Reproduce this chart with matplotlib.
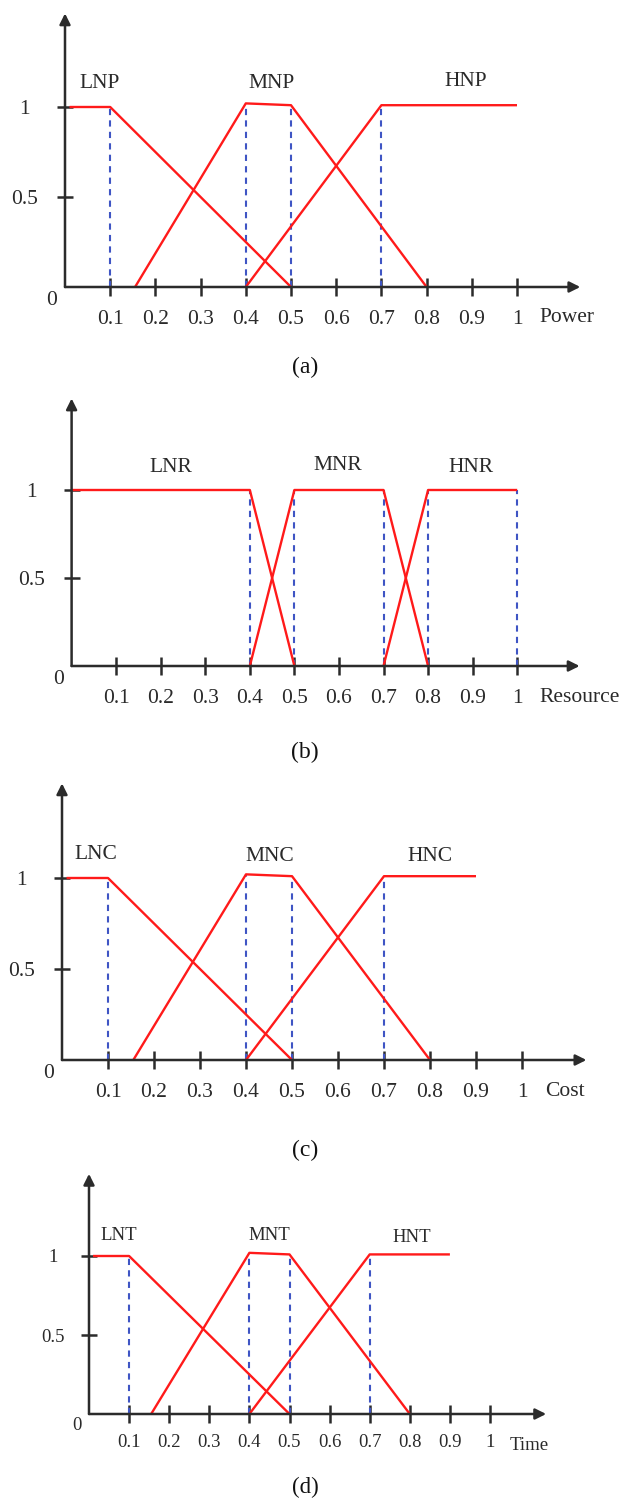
import matplotlib
matplotlib.use("Agg")
import matplotlib.pyplot as plt
import numpy as np

plt.rcParams['font.family'] = ['Liberation Serif', 'DejaVu Serif']

# --- data: membership function break points (x, y) for each panel ---
power_x = {"LNP": [0.01, 0.1, 0.5], "MNP": [0.155, 0.4, 0.5, 0.8], "HNP": [0.4, 0.7, 1.0]}
power_y = {"LNP": [1, 1, 0], "MNP": [0, 1.02, 1.01, 0], "HNP": [0, 1.01, 1.01]}
power_dash = [0.1, 0.4, 0.5, 0.7]
power_dash_h = [1, 1.02, 1.01, 1.01]

res_x = {"LNR": [0.0, 0.4, 0.5], "MNR": [0.4, 0.5, 0.7, 0.8], "HNR": [0.7, 0.8, 1.0]}
res_y = {"LNR": [1, 1, 0], "MNR": [0, 1, 1, 0], "HNR": [0, 1, 1]}
res_dash = [0.4, 0.5, 0.7, 0.8, 1.0]
res_dash_h = [1, 1, 1, 1, 1]

cost_x = {"LNC": [0.01, 0.1, 0.5], "MNC": [0.155, 0.4, 0.5, 0.8], "HNC": [0.4, 0.7, 0.9]}
cost_y = {"LNC": [1, 1, 0], "MNC": [0, 1.02, 1.01, 0], "HNC": [0, 1.01, 1.01]}
cost_dash = [0.1, 0.4, 0.5, 0.7]
cost_dash_h = [1, 1.02, 1.01, 1.01]

time_x = {"LNT": [0.01, 0.1, 0.5], "MNT": [0.155, 0.4, 0.5, 0.8], "HNT": [0.4, 0.7, 0.9]}
time_y = {"LNT": [1, 1, 0], "MNT": [0, 1.02, 1.01, 0], "HNT": [0, 1.01, 1.01]}
time_dash = [0.1, 0.4, 0.5, 0.7]
time_dash_h = [1, 1.02, 1.01, 1.01]

x_ticks = [0.1, 0.2, 0.3, 0.4, 0.5, 0.6, 0.7, 0.8, 0.9, 1.0]
x_tick_labels = ["0.1", "0.2", "0.3", "0.4", "0.5", "0.6", "0.7", "0.8", "0.9", "1"]
y_ticks = [0.5, 1.0]
y_tick_labels = ["0.5", "1"]

W, H = 627, 1499
fig = plt.figure(figsize=(W / 100, H / 100), dpi=100)

AX_COL = "#2b2b2b"
TXT = "#2a2a2a"
RED = "#ff1a1a"
BLUE = "#3f55c4"


def panel(ox, oy, sx, sy, xs, ys, dash, dash_h, label_pos, xname, caption, fs, cap_xy, xpad, ypad, cap_fs):
    xmax, ymax = 1.3, 1.6
    ax = fig.add_axes([ox / W, (H - oy) / H, xmax * sx / W, ymax * sy / H])
    ax.set_xlim(0, xmax)
    ax.set_ylim(0, ymax)
    for s in ["top", "right", "left", "bottom"]:
        ax.spines[s].set_visible(False)
    ax.patch.set_alpha(0)

    # axes with arrows
    ax.annotate("", xy=(1.14, 0), xytext=(0, 0), annotation_clip=False,
                arrowprops=dict(arrowstyle="-|>", color=AX_COL, lw=1.8, mutation_scale=16,
                                shrinkA=0, shrinkB=0))
    ax.annotate("", xy=(0, 1.52), xytext=(0, 0), annotation_clip=False,
                arrowprops=dict(arrowstyle="-|>", color=AX_COL, lw=1.8, mutation_scale=16,
                                shrinkA=0, shrinkB=0))

    ax.set_xticks(x_ticks)
    ax.set_xticklabels(x_tick_labels)
    ax.set_yticks(y_ticks)
    ax.set_yticklabels(y_tick_labels, ha="center")
    ax.tick_params(axis="x", direction="inout", length=13, width=1.8, color=AX_COL,
                   labelsize=fs, pad=xpad, labelcolor=TXT)
    ax.tick_params(axis="y", direction="inout", length=12, width=1.8, color=AX_COL,
                   labelsize=fs, pad=ypad, labelcolor=TXT)
    ax.text(-0.03, -0.075, "0", fontsize=fs, ha="center", va="center", color=TXT)
    ax.text(1.05, -31 / sy, xname, fontsize=fs, ha="left", va="center", color=TXT)

    # dashed guides
    ax.vlines(dash, 0, dash_h, colors=BLUE, linestyles=(0, (3, 2.5)), lw=1.5)

    # membership functions
    for name in xs:
        ax.plot(xs[name], ys[name], color=RED, lw=1.7, solid_capstyle="butt")
        lx, ly = label_pos[name]
        ax.text(lx, ly, name, fontsize=fs, ha="center", va="center", color=TXT)

    fig.text(cap_xy[0] / W, 1 - cap_xy[1] / H, caption, fontsize=cap_fs,
             ha="center", va="center", color="#111111")


panel(65, 287, 452, 180, power_x, power_y, power_dash, power_dash_h,
      {"LNP": (0.077, 1.13), "MNP": (0.458, 1.13), "HNP": (0.886, 1.14)},
      "Power", "(a)", 15.5, (305, 367), 10, 23, 17)
panel(71.6, 666, 445.6, 176, res_x, res_y, res_dash, res_dash_h,
      {"LNR": (0.223, 1.13), "MNR": (0.598, 1.14), "HNR": (0.897, 1.13)},
      "Resource", "(b)", 15.5, (305, 752), 10, 23, 17)
panel(62, 1060, 460, 182, cost_x, cost_y, cost_dash, cost_dash_h,
      {"LNC": (0.074, 1.13), "MNC": (0.452, 1.12), "HNC": (0.80, 1.12)},
      "Cost", "(c)", 15.5, (305, 1150), 10, 23, 17)
panel(89, 1414, 401, 158, time_x, time_y, time_dash, time_dash_h,
      {"LNT": (0.075, 1.13), "MNT": (0.45, 1.13), "HNT": (0.805, 1.12)},
      "Time", "(d)", 13.5, (305, 1487), 8, 20, 16.5)

fig.savefig("out.png", dpi=100, facecolor="white")
